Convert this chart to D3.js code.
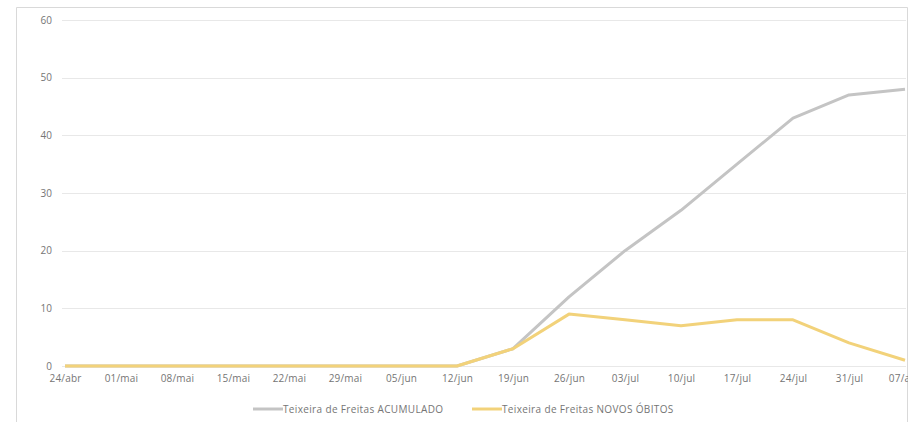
<!DOCTYPE html>
<html><head><meta charset="utf-8">
<script src="https://cdn.jsdelivr.net/npm/d3@7"></script>
<style>body{margin:0;background:#fff}svg{display:block}</style>
</head><body>
<script>
const dates = ["24/abr","01/mai","08/mai","15/mai","22/mai","29/mai","05/jun","12/jun","19/jun","26/jun","03/jul","10/jul","17/jul","24/jul","31/jul","07/ago"];
const acumulado = [0,0,0,0,0,0,0,0,3,12,20,27,35,43,47,48];
const novosObitos = [0,0,0,0,0,0,0,0,3,9,8,7,8,8,4,1];
const yTicks = [0,10,20,30,40,50,60];
const seriesNames = ["Teixeira de Freitas ACUMULADO","Teixeira de Freitas NOVOS ÓBITOS"];

const W=915,H=422;
const svg=d3.select("body").append("svg").attr("width",W).attr("height",H);
const font="'Open Sans', sans-serif";
const txtCol="#757575";
// frame
svg.append("defs").append("clipPath").attr("id","clip").append("rect").attr("x",16).attr("y",7).attr("width",892).attr("height",H);
svg.append("path").attr("d","M16.5,"+H+"V7.5H907.5V"+H).attr("fill","none").attr("stroke","#d9d9d9");
const g=svg.append("g").attr("clip-path","url(#clip)");

const x=d3.scalePoint().domain(dates).range([65,905]);
const y=d3.scaleLinear().domain([0,60]).range([366,20]);

// gridlines
g.selectAll(".grid").data(yTicks).join("line")
 .attr("x1",62).attr("x2",906).attr("y1",d=>Math.round(y(d))+0.5).attr("y2",d=>Math.round(y(d))+0.5)
 .attr("stroke","#e8e8e8");

const yAxis=d3.axisLeft(y).tickValues(yTicks).tickSize(0).tickPadding(0);
const ya=g.append("g").attr("transform","translate(52,0)").call(yAxis);
ya.select(".domain").remove();
ya.selectAll("text").attr("font-family",font).attr("font-size","10px").attr("fill",txtCol);

const xAxis=d3.axisBottom(x).tickSize(0).tickPadding(0);
const xa=g.append("g").attr("transform","translate(0,375)").call(xAxis);
xa.select(".domain").remove();
xa.selectAll("text").attr("font-family",font).attr("font-size","10px").attr("letter-spacing","0.2px").attr("fill",txtCol);

const line=d3.line().x((d,i)=>x(dates[i])).y(d=>y(d));
g.append("path").datum(acumulado).attr("d",line).attr("fill","none").attr("stroke","#c4c4c4").attr("stroke-width",3).attr("stroke-linejoin","round");
g.append("path").datum(novosObitos).attr("d",line).attr("fill","none").attr("stroke","#f2d27a").attr("stroke-width",3).attr("stroke-linejoin","round");

// legend
const colors=["#c4c4c4","#f2d27a"];
const lx=[253,472];
seriesNames.forEach((n,i)=>{
  g.append("line").attr("x1",lx[i]).attr("x2",lx[i]+30).attr("y1",409).attr("y2",409).attr("stroke",colors[i]).attr("stroke-width",3);
  g.append("text").attr("x",lx[i]+30).attr("y",412.5).attr("font-family",font).attr("font-size","10px").attr("letter-spacing","0.35px").attr("fill",txtCol).text(n);
});
</script>
</body></html>
